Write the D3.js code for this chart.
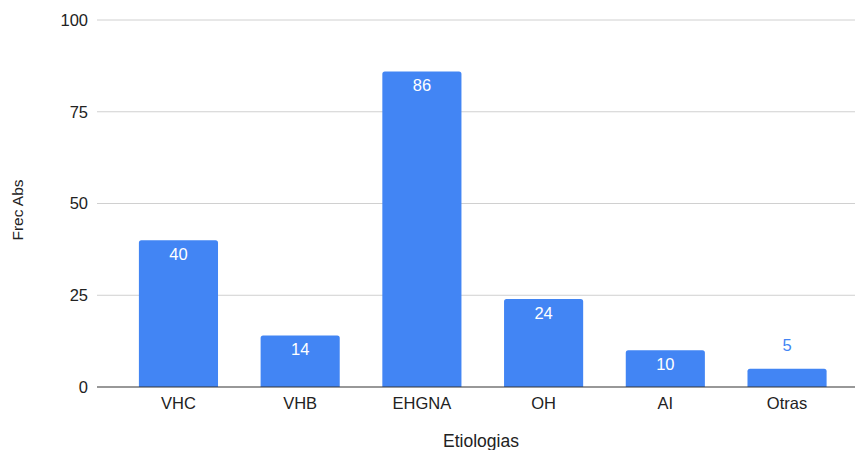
<!DOCTYPE html>
<html>
<head>
<meta charset="utf-8">
<script src="https://cdn.jsdelivr.net/npm/d3@7/dist/d3.min.js"></script>
<style>
  html, body { margin: 0; padding: 0; background: #fff; }
  svg { display: block; }
  text { font-family: "Liberation Sans", Arial, sans-serif; fill: #222; }
</style>
</head>
<body>
<svg id="chart" width="855" height="450"></svg>
<script>
// Etiologías — frecuencia absoluta
const categories = ["VHC", "VHB", "EHGNA", "OH", "AI", "Otras"];
const values = [40, 14, 86, 24, 10, 5];
const yTicks = [0, 25, 50, 75, 100];

const W = 855, H = 450;
const svg = d3.select("#chart");

const x = d3.scaleBand()
  .domain(categories)
  .range([117.6, 847.9])
  .paddingInner(0.35)
  .paddingOuter(0.175);

const y = d3.scaleLinear().domain([0, 100]).range([387, 20]);

// gridlines and y tick labels
const grid = svg.append("g");
grid.selectAll("line").data(yTicks.filter(d => d !== 0)).join("line")
  .attr("x1", 97).attr("x2", W)
  .attr("y1", d => y(d)).attr("y2", d => y(d))
  .attr("stroke", "#d0d0d0").attr("stroke-width", 1);

svg.append("g").selectAll("text").data(yTicks).join("text")
  .attr("x", 88).attr("y", d => y(d))
  .attr("dy", "0.35em")
  .attr("text-anchor", "end")
  .style("font-size", "16.5px")
  .text(d => d);

// bars with slightly rounded top corners
const r = 2.5;
function barPath(x0, w, yTop, yBase) {
  const h = yBase - yTop;
  const rr = Math.min(r, h / 2, w / 2);
  return `M${x0},${yBase}V${yTop + rr}Q${x0},${yTop} ${x0 + rr},${yTop}` +
         `H${x0 + w - rr}Q${x0 + w},${yTop} ${x0 + w},${yTop + rr}V${yBase}Z`;
}

const data = categories.map((c, i) => ({ cat: c, val: values[i] }));

svg.append("g").selectAll("path").data(data).join("path")
  .attr("d", d => barPath(x(d.cat), x.bandwidth(), y(d.val), y(0)))
  .attr("fill", "#4285F4");

// baseline
svg.append("line")
  .attr("x1", 97).attr("x2", W)
  .attr("y1", y(0)).attr("y2", y(0))
  .attr("stroke", "#333").attr("stroke-width", 1.2);

// value labels: inside the bar when it is tall enough, otherwise above it
svg.append("g").selectAll("text").data(data).join("text")
  .attr("x", d => x(d.cat) + x.bandwidth() / 2)
  .attr("y", d => (y(0) - y(d.val) > 28) ? y(d.val) + 14 : y(d.val) - 23.5)
  .attr("dy", "0.35em")
  .attr("text-anchor", "middle")
  .style("font-size", "16.5px")
  .style("fill", d => (y(0) - y(d.val) > 28) ? "#ffffff" : "#4285F4")
  .text(d => d.val);

// x tick labels
svg.append("g").selectAll("text").data(categories).join("text")
  .attr("x", d => x(d) + x.bandwidth() / 2)
  .attr("y", 403)
  .attr("dy", "0.35em")
  .attr("text-anchor", "middle")
  .style("font-size", "16.5px")
  .text(d => d);

// axis titles
svg.append("text")
  .attr("x", 481).attr("y", 441)
  .attr("dy", "0.35em")
  .attr("text-anchor", "middle")
  .style("font-size", "17.5px")
  .text("Etiologias");

svg.append("text")
  .attr("transform", "translate(18,210) rotate(-90)")
  .attr("dy", "0.35em")
  .attr("text-anchor", "middle")
  .style("font-size", "15.5px")
  .text("Frec Abs");
</script>
</body>
</html>
